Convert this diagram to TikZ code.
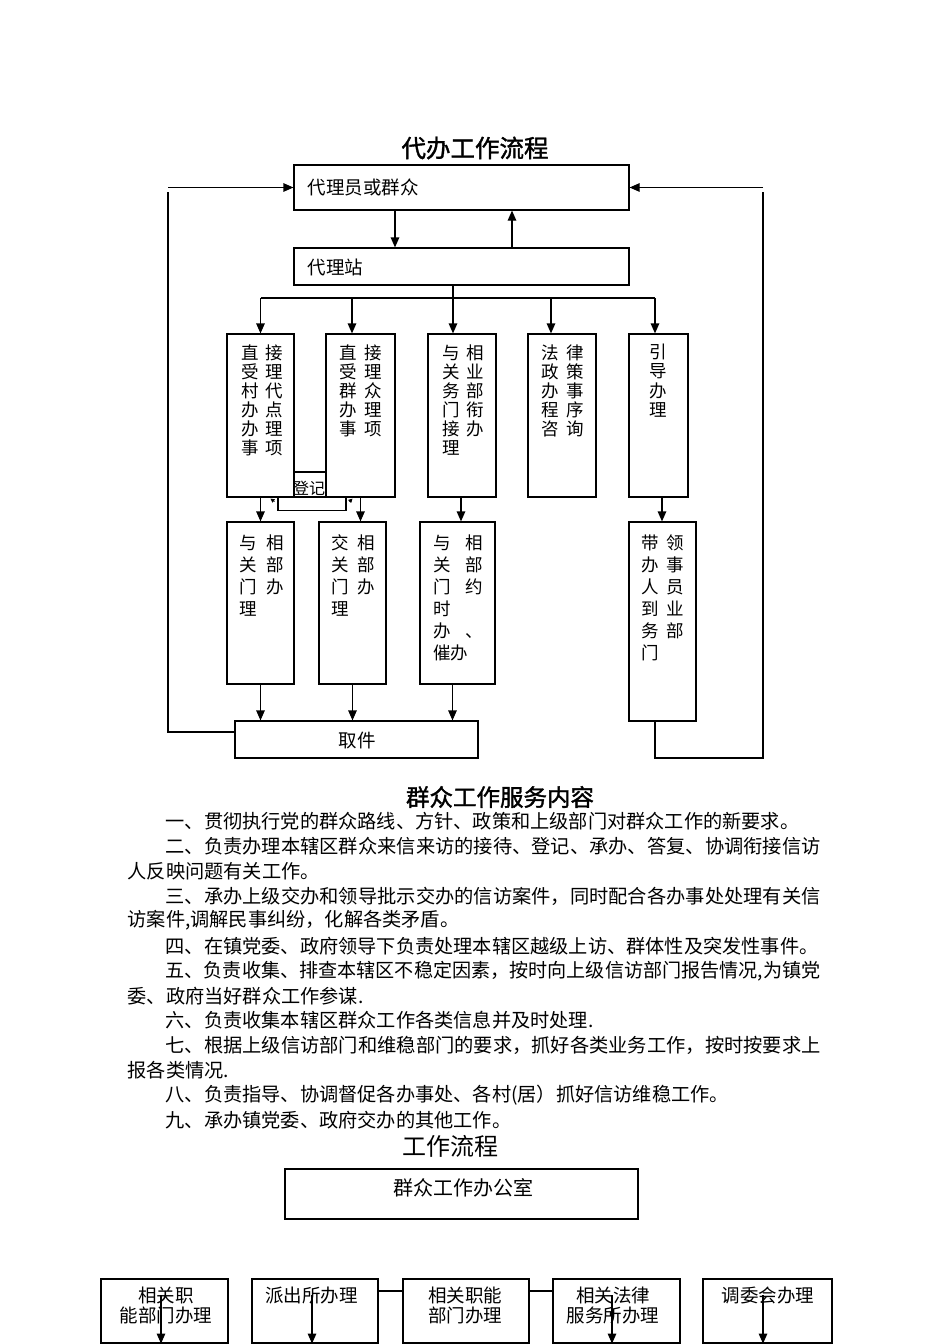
\documentclass[tikz,border=0pt]{standalone}
\usepackage{fontspec}
\usepackage{graphicx}
\setmainfont{Noto Sans CJK SC}
\usetikzlibrary{arrows.meta,calc}
\newcommand{\mybox}[5]{\node[box,minimum width={#4-#2},minimum height={#5-#3}] (#1) at ({(#2+#4)/2},{(#3+#5)/2}) {};}
\newcommand{\pr}[3]{\makebox[#1pt][l]{#2}#3}
\begin{document}
\begin{tikzpicture}[x=1pt,y=-1pt,line width=1.2pt,
 box/.style={draw,fill=white,inner sep=0pt,line width=1.2pt},
 arr/.style={-{Triangle[length=10pt,width=8.5pt]}},
 tip/.style={line width=0.8pt,-{Triangle[length=4pt,width=4pt]}},
 lbl/.style={inner sep=0pt,font=\fontsize{18.5}{20}\selectfont},
 clbl/.style={inner sep=0pt,align=center,anchor=north,font=\fontsize{18.5}{20}\selectfont},
 vt/.style={inner sep=0pt,align=left,anchor=north west,font=\fontsize{17.5}{19.1}\selectfont},
 vtb/.style={inner sep=0pt,align=left,anchor=north west,font=\fontsize{17.5}{22}\selectfont},
 body/.style={inner sep=0pt,anchor=west,font=\fontsize{19.2}{20}\selectfont},
 ttl/.style={inner sep=0pt,font=\fontsize{24.5}{26}\selectfont\addfontfeatures{FakeBold=1.5}}]
\clip (0,0) rectangle (950,1344);
\fill[white] (0,0) rectangle (950,1344);

% ---------- part 1 ----------
\node[ttl] (t1) at (475,148) {代办工作流程};
\mybox{top}{294}{165}{629}{210}
\mybox{stn}{294}{248}{629}{285}
\node[lbl,anchor=west] (topt) at (307,187) {代理员或群众};
\node[lbl,anchor=west] (stnt) at (307,267) {代理站};
\draw[arr] ([xshift=-66.5pt]top.south) -- ([xshift=-66.5pt]stn.north);
\draw[arr] ([xshift=50.5pt]stn.north) -- ([xshift=50.5pt]top.south);

% register box (behind)
\mybox{dj}{280}{472}{330}{497}

% row 1
\mybox{B1}{227}{334}{294}{497}
\mybox{B2}{326}{334}{395}{497}
\mybox{B3}{428}{334}{496}{497}
\mybox{B4}{528}{334}{596}{497}
\mybox{B5}{629}{334}{688}{497}
\node[vt] (b1t) at (240.7,343.7) {\pr{24}{直}{接}\\\pr{24}{受}{理}\\\pr{24}{村}{代}\\\pr{24}{办}{点}\\\pr{24}{办}{理}\\\pr{24}{事}{项}};
\node[vt] (b2t) at (339.3,343.7) {\pr{24.5}{直}{接}\\\pr{24.5}{受}{理}\\\pr{24.5}{群}{众}\\\pr{24.5}{办}{理}\\\pr{24.5}{事}{项}};
\node[vt] (b3t) at (441.8,343.7) {\pr{24.5}{与}{相}\\\pr{24.5}{关}{业}\\\pr{24.5}{务}{部}\\\pr{24.5}{门}{衔}\\\pr{24.5}{接}{办}\\理};
\node[vt] (b4t) at (541.3,343.7) {\pr{24.5}{法}{律}\\\pr{24.5}{政}{策}\\\pr{24.5}{办}{事}\\\pr{24.5}{程}{序}\\\pr{24.5}{咨}{询}};
\node[vt,align=center,anchor=north] (b5t) at (658.5,343.7) {引\\导\\办\\理};

\node[inner sep=0pt,font=\fontsize{16}{17}\selectfont] (djt) at (309,488) {登记};
\draw ([xshift=17.5pt]B1.south) -- ++(0,13) -| ([xshift=-14.5pt]B2.south);
\draw[tip] ([xshift=14pt,yshift=-4pt]B1.south) -- ([xshift=10pt,yshift=-1pt]B1.south);
\draw[tip] ([xshift=-11pt,yshift=-4pt]B2.south) -- ([xshift=-8pt,yshift=-1pt]B2.south);

% distribution
\coordinate (hub) at (453,298);
\coordinate (h1) at (260.5,298);
\coordinate (h2) at (352,298);
\coordinate (h3) at (453,298);
\coordinate (h4) at (551,298);
\coordinate (h5) at (655,298);
\draw ([xshift=-8.5pt]stn.south) -- (hub);
\draw (h1) -- (h5);
\draw[arr] (h1) -- (h1 |- B1.north);
\draw[arr] (h2) -- (h2 |- B2.north);
\draw[arr] (h3) -- (h3 |- B3.north);
\draw[arr] (h4) -- (h4 |- B4.north);
\draw[arr] (h5) -- (h5 |- B5.north);

% row 2
\mybox{C1}{227}{522}{294}{684}
\mybox{C2}{319}{522}{386}{684}
\mybox{C3}{420}{522}{495}{684}
\mybox{D}{629}{522}{696}{721}
\node[vtb] (c1t) at (238.8,534) {\pr{27.5}{与}{相}\\\pr{27.5}{关}{部}\\\pr{27.5}{门}{办}\\理};
\node[vtb] (c2t) at (330.8,534) {\pr{25.7}{交}{相}\\\pr{25.7}{关}{部}\\\pr{25.7}{门}{办}\\理};
\node[vtb] (c3t) at (432.8,534) {\pr{32.5}{与}{相}\\\pr{32.5}{关}{部}\\\pr{32.5}{门}{约}\\时\\\pr{32.5}{办}{、}\\催办};
\node[vtb] (dt) at (640.5,534) {\pr{25.2}{带}{领}\\\pr{25.2}{办}{事}\\\pr{25.2}{人}{员}\\\pr{25.2}{到}{业}\\\pr{25.2}{务}{部}\\门};

\draw[arr] (B1.south) -- (B1.south |- C1.north);
\draw[arr] (B2.south) -- (B2.south |- C2.north);
\draw[arr] ([xshift=-1pt]B3.south) -- ([xshift=-1pt]B3.south |- C3.north);
\draw[arr] ([xshift=3.5pt]B5.south) -- ([xshift=3.5pt]B5.south |- D.north);

% collect
\mybox{qj}{235}{721}{478}{758}
\node[lbl] (qjt) at (357,740) {取件};
\draw[arr] (C1.south) -- (C1.south |- qj.north);
\draw[arr] (C2.south) -- (C2.south |- qj.north);
\draw[arr] ([xshift=-5pt]C3.south) -- ([xshift=-5pt]C3.south |- qj.north);

% feedback loops
\coordinate (L1) at (168,732);
\coordinate (L2) at (168,192);
\coordinate (L3) at (168,187.5);
\draw (qj.west |- L1) -- (L1) -- (L2);
\draw[arr] (L3) -- (top.west);
\coordinate (R1) at (655,758);
\coordinate (R2) at (763,758);
\coordinate (R3) at (763,192);
\coordinate (R4) at (763,187.5);
\draw (D.south -| R1) -- (R1) -- (R2) -- (R3);
\draw[arr] (R4) -- (top.east);

% ---------- part 2 ----------
\node[ttl,font=\fontsize{23.5}{25}\selectfont\addfontfeatures{FakeBold=1.5}] (t2) at (500,797) {群众工作服务内容};
\node[body] (p1) at (165,821) {一、贯彻执行党的群众路线、方针、政策和上级部门对群众工作的新要求。};
\node[body] (p2) at (165,846) {\resizebox{655pt}{\height}{二、负责办理本辖区群众来信来访的接待、登记、承办、答复、协调衔接信访}};
\node[body] (p3) at (127,871) {人反映问题有关工作。};
\node[body] (p4) at (165,896) {\resizebox{655pt}{\height}{三、承办上级交办和领导批示交办的信访案件，同时配合各办事处处理有关信}};
\node[body] (p5) at (127,920) {访案件,调解民事纠纷，化解各类矛盾。};
\node[body] (p6) at (165,946) {四、在镇党委、政府领导下负责处理本辖区越级上访、群体性及突发性事件。};
\node[body] (p7) at (165,971) {\resizebox{655pt}{\height}{五、负责收集、排查本辖区不稳定因素，按时向上级信访部门报告情况,为镇党}};
\node[body] (p8) at (127,996) {委、政府当好群众工作参谋.};
\node[body] (p9) at (165,1020) {六、负责收集本辖区群众工作各类信息并及时处理.};
\node[body] (p10) at (165,1045) {\resizebox{655pt}{\height}{七、根据上级信访部门和维稳部门的要求，抓好各类业务工作，按时按要求上}};
\node[body] (p11) at (127,1070) {报各类情况.};
\node[body] (p12) at (165,1095) {八、负责指导、协调督促各办事处、各村(居）抓好信访维稳工作。};
\node[body] (p13) at (165,1120) {九、承办镇党委、政府交办的其他工作。};

% ---------- part 3 ----------
\node[inner sep=0pt,font=\fontsize{24}{26}\selectfont] (t3) at (450,1146) {工作流程};
\mybox{qz}{285}{1169}{638}{1219}
\node[inner sep=0pt,font=\fontsize{20}{22}\selectfont] (qzt) at (463,1188) {群众工作办公室};
\mybox{E1}{101}{1279}{228}{1343}
\mybox{E2}{252}{1279}{378}{1343}
\mybox{E3}{403}{1279}{529}{1343}
\mybox{E4}{553}{1279}{680}{1343}
\mybox{E5}{703}{1279}{832}{1343}
\node[clbl] (e1t) at (166,1286) {相关职\\能部门办理};
\node[clbl] (e2t) at (311.5,1286) {派出所办理};
\node[clbl] (e3t) at (465,1286) {相关职能\\部门办理};
\node[clbl] (e4t) at (613,1286) {相关法律\\服务所办理};
\node[clbl] (e5t) at (768,1286) {调委会办理};
\draw ([yshift=20pt]E2.east) -- ([yshift=20pt]E3.west);
\draw ([yshift=20pt]E3.east) -- ([yshift=20pt]E4.west);
\draw[arr] ([xshift=-3.5pt,yshift=-17pt]E1.north) -- ([xshift=-3.5pt]E1.south);
\draw[arr] ([xshift=-3pt,yshift=-17pt]E2.north) -- ([xshift=-3pt]E2.south);
\draw[arr] ([xshift=-4.5pt,yshift=-17pt]E4.north) -- ([xshift=-4.5pt]E4.south);
\draw[arr] ([xshift=-4.5pt,yshift=-17pt]E5.north) -- ([xshift=-4.5pt]E5.south);
\end{tikzpicture}
\end{document}
